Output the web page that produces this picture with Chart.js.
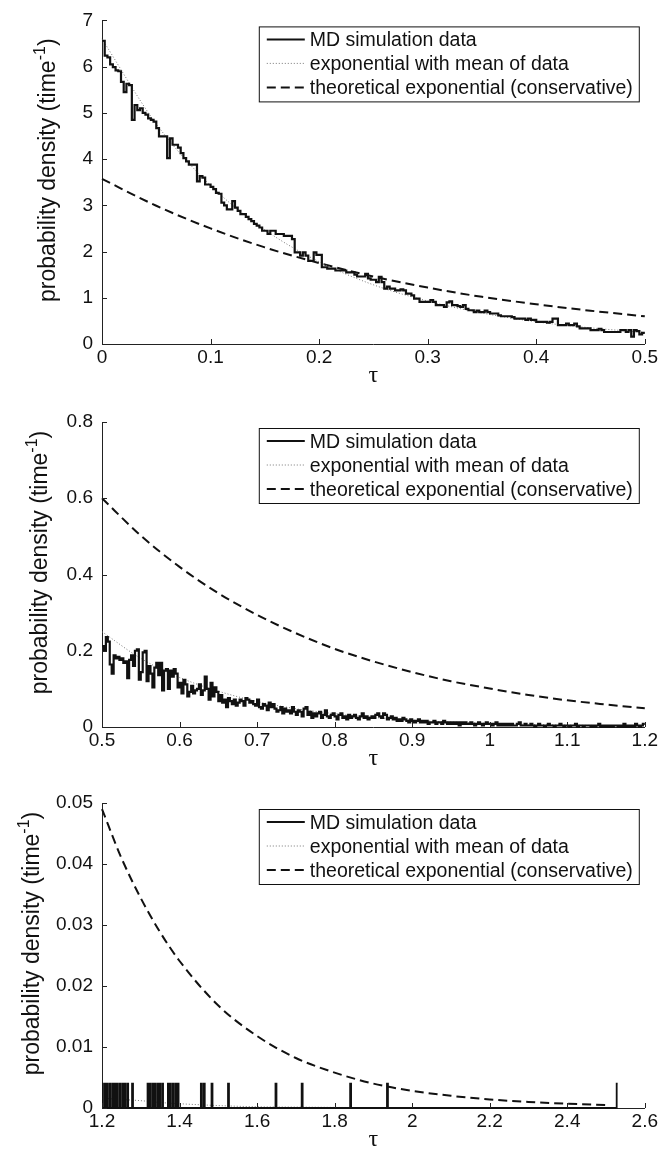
<!DOCTYPE html>
<html>
<head>
<meta charset="utf-8">
<script src="https://cdn.jsdelivr.net/npm/chart.js@4.4.0/dist/chart.umd.min.js"></script>
<style>
  html, body { margin: 0; padding: 0; background: #fff; }
  canvas { display: block; }
</style>
</head>
<body>
<canvas id="p1" width="660" height="384"></canvas>
<canvas id="p2" width="660" height="384"></canvas>
<canvas id="p3" width="660" height="384"></canvas>
<script>
const seriesNames = ["MD simulation data", "exponential with mean of data", "theoretical exponential (conservative)"];
const binWidth = 0.0025;

// panel 1, tau 0 .. 0.5 (histogram bins of 0.0025)
const mdStart1 = 0;
const mdValues1 = [
  6.56, 6.24, 6.20, 6.05, 5.99, 5.92, 5.90, 5.67, 5.45, 5.63,
  5.60, 4.85, 5.17, 5.06, 5.10, 5.00, 4.96, 4.88, 4.85, 4.81,
  4.67, 4.49, 4.49, 4.49, 4.02, 4.45, 4.31, 4.31, 4.25, 4.13,
  4.02, 3.95, 3.88, 3.88, 3.88, 3.52, 3.63, 3.60, 3.45, 3.45,
  3.40, 3.35, 3.27, 3.25, 3.06, 3.00, 2.91, 2.91, 3.09, 2.95,
  2.88, 2.81, 2.81, 2.75, 2.70, 2.66, 2.60, 2.56, 2.52, 2.45,
  2.45, 2.38, 2.45, 2.45, 2.38, 2.38, 2.38, 2.34, 2.34, 2.34,
  2.27, 1.98, 1.98, 1.91, 1.98, 1.91, 1.80, 1.80, 1.98, 1.93,
  1.93, 1.66, 1.66, 1.63, 1.63, 1.63, 1.59, 1.59, 1.59, 1.59,
  1.55, 1.55, 1.55, 1.50, 1.46, 1.46, 1.46, 1.52, 1.42, 1.39,
  1.39, 1.34, 1.45, 1.34, 1.20, 1.24, 1.20, 1.20, 1.16, 1.16,
  1.18, 1.16, 1.09, 1.09, 1.05, 0.98, 0.98, 0.91, 0.91, 0.91,
  0.91, 0.95, 0.91, 0.84, 0.84, 0.84, 0.80, 0.90, 0.92, 0.84,
  0.84, 0.82, 0.80, 0.84, 0.76, 0.73, 0.73, 0.69, 0.72, 0.69,
  0.69, 0.72, 0.69, 0.66, 0.66, 0.66, 0.62, 0.60, 0.60, 0.60,
  0.60, 0.58, 0.55, 0.55, 0.55, 0.55, 0.52, 0.55, 0.52, 0.52,
  0.48, 0.48, 0.48, 0.48, 0.46, 0.48, 0.55, 0.55, 0.41, 0.41,
  0.41, 0.44, 0.41, 0.41, 0.44, 0.38, 0.34, 0.34, 0.34, 0.34,
  0.30, 0.30, 0.30, 0.33, 0.30, 0.26, 0.26, 0.26, 0.26, 0.26,
  0.26, 0.30, 0.30, 0.26, 0.30, 0.16, 0.30, 0.28, 0.21, 0.24
];
const curveTau1 = [0, 0.05, 0.1, 0.15, 0.2, 0.25, 0.3, 0.35, 0.4, 0.45, 0.5];
const meanValues1 = [6.60, 4.76, 3.43, 2.47, 1.78, 1.28, 0.93, 0.67, 0.48, 0.35, 0.25];
const theoValues1 = [3.57, 2.99, 2.50, 2.09, 1.75, 1.46, 1.22, 1.02, 0.86, 0.72, 0.60];
const xTicks1 = [0, 0.1, 0.2, 0.3, 0.4, 0.5];
const yTicks1 = [0, 1, 2, 3, 4, 5, 6, 7];

// panel 2, tau 0.5 .. 1.2
const mdStart2 = 0.5;
const mdValues2 = [
  0.212, 0.200, 0.236, 0.224, 0.164, 0.140, 0.188, 0.180, 0.184, 0.176,
  0.180, 0.168, 0.172, 0.128, 0.176, 0.188, 0.160, 0.200, 0.204, 0.124,
  0.144, 0.196, 0.200, 0.120, 0.160, 0.140, 0.104, 0.156, 0.168, 0.136,
  0.168, 0.096, 0.148, 0.152, 0.100, 0.148, 0.132, 0.152, 0.140, 0.104,
  0.116, 0.088, 0.124, 0.112, 0.080, 0.092, 0.108, 0.088, 0.096, 0.100,
  0.112, 0.084, 0.096, 0.132, 0.100, 0.072, 0.116, 0.080, 0.104, 0.092,
  0.068, 0.084, 0.064, 0.072, 0.052, 0.076, 0.068, 0.060, 0.072, 0.056,
  0.064, 0.072, 0.068, 0.056, 0.076, 0.072, 0.064, 0.068, 0.060, 0.056,
  0.072, 0.052, 0.048, 0.060, 0.056, 0.044, 0.064, 0.052, 0.060, 0.048,
  0.040, 0.044, 0.052, 0.036, 0.048, 0.040, 0.044, 0.036, 0.052, 0.040,
  0.032, 0.044, 0.040, 0.028, 0.048, 0.052, 0.032, 0.040, 0.024, 0.036,
  0.028, 0.036, 0.040, 0.024, 0.032, 0.044, 0.028, 0.024, 0.032, 0.036,
  0.028, 0.020, 0.032, 0.036, 0.024, 0.028, 0.020, 0.032, 0.024, 0.028,
  0.032, 0.024, 0.020, 0.028, 0.036, 0.024, 0.028, 0.020, 0.024, 0.028,
  0.024, 0.032, 0.036, 0.028, 0.024, 0.036, 0.032, 0.020, 0.024, 0.028,
  0.020, 0.024, 0.016, 0.020, 0.016, 0.024, 0.020, 0.016, 0.012, 0.020,
  0.016, 0.012, 0.016, 0.020, 0.012, 0.016, 0.012, 0.016, 0.008, 0.012,
  0.012, 0.016, 0.008, 0.012, 0.012, 0.008, 0.016, 0.012, 0.008, 0.012,
  0.008, 0.012, 0.008, 0.012, 0.004, 0.012, 0.008, 0.012, 0.008, 0.008,
  0.012, 0.008, 0.004, 0.008, 0.012, 0.008, 0.004, 0.008, 0.012, 0.008,
  0.008, 0.004, 0.008, 0.012, 0.004, 0.008, 0.004, 0.008, 0.004, 0.008,
  0.004, 0.008, 0.004, 0.004, 0.008, 0.012, 0.004, 0.004, 0.008, 0.004,
  0.004, 0.008, 0.004, 0.000, 0.004, 0.008, 0.004, 0.004, 0.000, 0.004,
  0.008, 0.004, 0.004, 0.000, 0.004, 0.004, 0.008, 0.004, 0.000, 0.004,
  0.004, 0.000, 0.004, 0.004, 0.008, 0.000, 0.004, 0.004, 0.000, 0.004,
  0.004, 0.004, 0.000, 0.004, 0.000, 0.004, 0.008, 0.000, 0.004, 0.000,
  0.004, 0.000, 0.004, 0.000, 0.004, 0.004, 0.000, 0.004, 0.000, 0.008,
  0.000, 0.004, 0.000, 0.004, 0.000, 0.008, 0.004, 0.000, 0.004, 0.008
];
const curveTau2 = [0.5, 0.55, 0.6, 0.65, 0.7, 0.75, 0.8, 0.85, 0.9, 0.95, 1.0, 1.05, 1.1, 1.15, 1.2];
const meanValues2 = [0.25, 0.18, 0.13, 0.094, 0.067, 0.048, 0.035, 0.025, 0.018, 0.013, 0.0095, 0.0068, 0.005, 0.0036, 0.0026];
const theoValues2 = [0.60, 0.502, 0.42, 0.351, 0.294, 0.246, 0.205, 0.172, 0.144, 0.12, 0.101, 0.084, 0.070, 0.059, 0.049];
const xTicks2 = [0.5, 0.6, 0.7, 0.8, 0.9, 1, 1.1, 1.2];
const yTicks2 = [0, 0.2, 0.4, 0.6, 0.8];

// panel 3, tau 1.2 .. 2.6: single events (one count = 0.004)
const mdStart3 = 1.2;
const mdEnd3 = 2.53;
const eventTau3 = [
  1.2017, 1.2077, 1.2137, 1.2206, 1.2275, 1.2335, 1.2395, 1.2464, 1.2533, 1.2593,
  1.2653, 1.279, 1.3177, 1.3237, 1.3306, 1.3366, 1.3426, 1.3495, 1.3555, 1.371,
  1.377, 1.384, 1.391, 1.395, 1.457, 1.463, 1.483, 1.526, 1.648, 1.717,
  1.841, 1.935, 2.528
];
const eventHeight3 = 0.004;
const curveTau3 = [1.2, 1.25, 1.3, 1.35, 1.4, 1.5, 1.6, 1.7, 1.8, 1.9, 2.0, 2.1, 2.2, 2.3, 2.4, 2.5];
const meanValues3 = [0.0016, 0.0014, 0.0012, 0.0009, 0.0007, 0.0004, 0.0002, 0.00015, 0.0001, 0.00005, 0.00003, 0, 0, 0, 0, 0];
const theoValues3 = [0.049, 0.041, 0.0344, 0.0288, 0.0241, 0.0168, 0.0118, 0.0082, 0.0058, 0.0040, 0.0028, 0.0020, 0.0014, 0.0010, 0.0007, 0.0005];
const xTicks3 = [1.2, 1.4, 1.6, 1.8, 2, 2.2, 2.4, 2.6];
const yTicks3 = [0, 0.01, 0.02, 0.03, 0.04, 0.05];

const sans = '"Liberation Sans", Arial, Helvetica, sans-serif';
const ink = "#111";

function steps(start, values) {
  const pts = values.map((v, i) => ({ x: start + i * binWidth, y: v }));
  pts.push({ x: start + values.length * binWidth, y: values[values.length - 1] });
  return pts;
}

function curve(taus, values) {
  return taus.map((t, i) => ({ x: t, y: values[i] }));
}

function eventBins(start, end, taus, h) {
  const n = Math.round((end - start) / binWidth);
  const bins = new Array(n).fill(0);
  taus.forEach((t) => {
    const k = Math.min(n - 1, Math.floor((t - start) / binWidth));
    bins[k] = h;
  });
  return bins;
}

// ticks drawn inside the axes, matlab style
const innerTicks = {
  id: "innerTicks",
  afterDraw(chart) {
    const { ctx, chartArea: a, scales } = chart;
    ctx.save();
    ctx.strokeStyle = "#222";
    ctx.lineWidth = 1;
    ctx.beginPath();
    scales.x.ticks.forEach((t) => {
      const px = Math.round(scales.x.getPixelForValue(t.value)) + 0.5;
      ctx.moveTo(px, a.bottom);
      ctx.lineTo(px, a.bottom - 5);
    });
    scales.y.ticks.forEach((t) => {
      const py = Math.round(scales.y.getPixelForValue(t.value)) + 0.5;
      ctx.moveTo(a.left, py);
      ctx.lineTo(a.left + 5, py);
    });
    ctx.stroke();
    ctx.restore();
  },
};

const boxLegend = {
  id: "boxLegend",
  afterDraw(chart) {
    const { ctx, chartArea: a } = chart;
    const w = 380, h = 75;
    const left = a.right - 6 - w, top = a.top + 6;
    ctx.save();
    ctx.fillStyle = "#fff";
    ctx.fillRect(left, top, w, h);
    ctx.strokeStyle = ink;
    ctx.lineWidth = 1;
    ctx.strokeRect(left + 0.5, top + 0.5, w, h);
    chart.data.datasets.forEach((ds, i) => {
      const yy = top + 13 + i * 24;
      ctx.setLineDash(ds.borderDash || []);
      ctx.lineWidth = ds.borderDash ? ds.borderWidth : 2;
      ctx.strokeStyle = ds.borderColor;
      ctx.beginPath();
      ctx.moveTo(left + 8, yy);
      ctx.lineTo(left + 46, yy);
      ctx.stroke();
      ctx.setLineDash([]);
      ctx.fillStyle = ink;
      ctx.font = "19.5px " + sans;
      ctx.textBaseline = "alphabetic";
      ctx.fillText(ds.label, left + 51, yy + 7);
    });
    ctx.restore();
  },
};

const axisTitles = {
  id: "axisTitles",
  afterDraw(chart, args, opts) {
    const { ctx, chartArea: a } = chart;
    const main = "probability density (time", sup = "-1", end = ")";
    const big = opts.size + "px " + sans;
    const small = Math.round(opts.size * 0.7) + "px " + sans;
    ctx.save();
    ctx.fillStyle = ink;
    ctx.font = big;
    const w1 = ctx.measureText(main).width;
    const w3 = ctx.measureText(end).width;
    ctx.font = small;
    const w2 = ctx.measureText(sup).width;
    const x0 = -(w1 + w2 + w3) / 2;
    ctx.translate(opts.x, (a.top + a.bottom) / 2 + opts.shift);
    ctx.rotate(-Math.PI / 2);
    ctx.textBaseline = "alphabetic";
    ctx.font = big;
    ctx.fillText(main, x0, 0);
    ctx.font = small;
    ctx.fillText(sup, x0 + w1, -opts.size * 0.45);
    ctx.font = big;
    ctx.fillText(end, x0 + w1 + w2, 0);
    ctx.restore();

    ctx.save();
    ctx.fillStyle = ink;
    ctx.font = '24px "Liberation Serif", "Times New Roman", serif';
    ctx.textAlign = "center";
    ctx.textBaseline = "middle";
    ctx.fillText("\u03c4", (a.left + a.right) / 2, a.bottom + opts.tauGap);
    ctx.restore();
  },
};

function makePanel(id, p) {
  return new Chart(document.getElementById(id), {
    type: "line",
    data: {
      datasets: [
        {
          label: seriesNames[0],
          data: p.md,
          stepped: true,
          borderColor: ink,
          borderWidth: p.mdWidth,
          pointRadius: 0,
        },
        {
          label: seriesNames[1],
          data: p.mean,
          borderColor: "#777",
          borderWidth: 1,
          borderDash: [1, 2],
          pointRadius: 0,
          cubicInterpolationMode: "monotone",
        },
        {
          label: seriesNames[2],
          data: p.theo,
          borderColor: ink,
          borderWidth: 2,
          borderDash: [9, 5],
          pointRadius: 0,
          cubicInterpolationMode: "monotone",
        },
      ],
    },
    options: {
      responsive: false,
      animation: false,
      events: [],
      clip: 3,
      layout: { padding: { top: p.top, right: 15, left: 0, bottom: 0 } },
      plugins: {
        legend: { display: false },
        tooltip: { enabled: false },
        axisTitles: { x: p.titleX, shift: -12, size: 23, tauGap: 32 },
      },
      scales: {
        x: {
          type: "linear",
          min: p.xTicks[0],
          max: p.xTicks[p.xTicks.length - 1],
          grid: { display: false, drawTicks: false },
          border: { display: true, color: "#222", width: 1 },
          afterBuildTicks: (s) => { s.ticks = p.xTicks.map((v) => ({ value: v })); },
          afterFit: (s) => { s.height = 384 - p.bottom; },
          ticks: {
            callback: (v) => String(v),
            font: { family: sans, size: 19 },
            color: ink,
            padding: 2,
            maxRotation: 0,
            autoSkip: false,
          },
        },
        y: {
          type: "linear",
          min: p.yTicks[0],
          max: p.yTicks[p.yTicks.length - 1],
          grid: { display: false, drawTicks: false },
          border: { display: true, color: "#222", width: 1 },
          afterBuildTicks: (s) => { s.ticks = p.yTicks.map((v) => ({ value: v })); },
          afterFit: (s) => { s.width = 102; },
          ticks: {
            callback: (v) => String(v),
            font: { family: sans, size: 19 },
            color: ink,
            padding: 9,
            autoSkip: false,
          },
        },
      },
    },
    plugins: [innerTicks, boxLegend, axisTitles],
  });
}

makePanel("p1", {
  top: 18, bottom: 344, mdWidth: 2.2, titleX: 55,
  md: steps(mdStart1, mdValues1),
  mean: curve(curveTau1, meanValues1),
  theo: curve(curveTau1, theoValues1),
  xTicks: xTicks1, yTicks: yTicks1,
});

makePanel("p2", {
  top: 38, bottom: 343, mdWidth: 2.2, titleX: 47,
  md: steps(mdStart2, mdValues2),
  mean: curve(curveTau2, meanValues2),
  theo: curve(curveTau2, theoValues2),
  xTicks: xTicks2, yTicks: yTicks2,
});

makePanel("p3", {
  top: 35, bottom: 340, mdWidth: 1.8, titleX: 39,
  md: steps(mdStart3, eventBins(mdStart3, mdEnd3, eventTau3, eventHeight3)),
  mean: curve(curveTau3, meanValues3),
  theo: curve(curveTau3, theoValues3),
  xTicks: xTicks3, yTicks: yTicks3,
});
</script>
</body>
</html>
